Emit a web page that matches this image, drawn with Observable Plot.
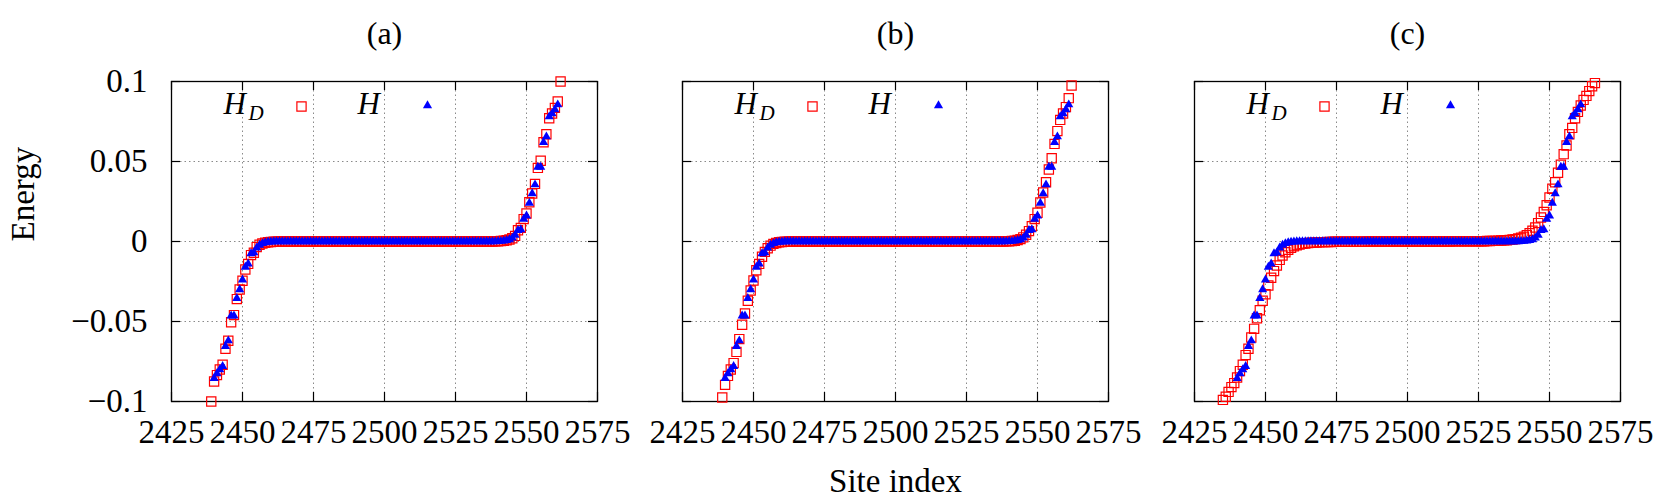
<!DOCTYPE html>
<html><head><meta charset="utf-8">
<script src="https://cdn.jsdelivr.net/npm/d3@7"></script>
<script src="https://cdn.jsdelivr.net/npm/@observablehq/plot@0.6"></script>
<style>
body{margin:0;background:#fff;}
#fig{position:relative;width:1660px;height:498px;font-family:"Liberation Serif",serif;}
#fig svg{position:absolute;top:0;background:transparent;overflow:visible;}
</style></head><body><div id="fig"></div>
<script>
const panelTitles = ["(a)", "(b)", "(c)"];
const xTicks = [2425, 2450, 2475, 2500, 2525, 2550, 2575];
const xTickLabels = ["2425", "2450", "2475", "2500", "2525", "2550", "2575"];
const yTicks = [-0.1, -0.05, 0, 0.05, 0.1];
const yTickLabels = ["\u22120.1", "\u22120.05", "0", "0.05", "0.1"];
const xGrid = [2450, 2475, 2500, 2525, 2550];
const yGrid = [-0.05, 0, 0.05];
const seriesNames = ["H", "D"];

// H (same in all panels): first site index 2440, last 2561 (122 values)
const H_start = 2440;
const H_energy = [
 -0.0855,-0.0825,-0.0800,-0.0780,-0.0655,-0.0620,-0.0465,-0.0465,-0.0355,-0.0300,-0.0240,-0.0160,-0.0140,-0.0075,-0.0070,-0.0040,-0.0022,-0.0012,-0.0007,-0.0004,-0.0002,-0.0001,
 0,0,0,0,0,0,0,0,0,0,
 0,0,0,0,0,0,0,0,0,0,
 0,0,0,0,0,0,0,0,0,0,
 0,0,0,0,0,0,0,0,0,0,
 0,0,0,0,0,0,0,0,0,0,
 0,0,0,0,0,0,0,0,0,0,
 0,0,0,0,0,0,0,0,0,0,
 0,0,0,0,0,0,0,0,
 0.0001,0.0002,0.0004,0.0007,0.0012,0.0022,0.0040,0.0070,0.0075,0.0140,0.0160,0.0240,0.0300,0.0355,0.0465,0.0465,0.0620,0.0655,0.0780,0.0800,0.0825,0.0855
];

// H_D panel (a): first site 2439, last 2562 (124 values)
const HD_a_start = 2439;
const HD_a_energy = [
 -0.1000,-0.0875,-0.0835,-0.0800,-0.0770,-0.0670,-0.0620,-0.0505,-0.0460,-0.0360,-0.0300,-0.0245,-0.0175,-0.0140,-0.0085,-0.0070,-0.0035,-0.0020,-0.0012,-0.0008,-0.0005,-0.0003,-0.0002,-0.0001,
 0,0,0,0,0,0,0,0,0,0,
 0,0,0,0,0,0,0,0,0,0,
 0,0,0,0,0,0,0,0,0,0,
 0,0,0,0,0,0,0,0,0,0,
 0,0,0,0,0,0,0,0,0,0,
 0,0,0,0,0,0,0,0,0,0,
 0,0,0,0,0,0,0,0,0,0,
 0,0,0,0,0,0,
 0.0001,0.0002,0.0003,0.0005,0.0008,0.0012,0.0020,0.0035,0.0070,0.0085,0.0140,0.0175,0.0245,0.0300,0.0360,0.0460,0.0505,0.0620,0.0670,0.0770,0.0800,0.0835,0.0875,0.1000
];

// H_D panel (b): first site 2439, last 2562 (124 values)
const HD_b_start = 2439;
const HD_b_energy = [
 -0.0975,-0.0896,-0.0840,-0.0800,-0.0760,-0.0690,-0.0610,-0.0520,-0.0450,-0.0370,-0.0306,-0.0244,-0.0180,-0.0140,-0.0095,-0.0065,-0.0042,-0.0026,-0.0015,-0.0009,-0.0005,-0.0003,-0.0002,-0.0001,
 0,0,0,0,0,0,0,0,0,0,
 0,0,0,0,0,0,0,0,0,0,
 0,0,0,0,0,0,0,0,0,0,
 0,0,0,0,0,0,0,0,0,0,
 0,0,0,0,0,0,0,0,0,0,
 0,0,0,0,0,0,0,0,0,0,
 0,0,0,0,0,0,0,0,0,0,
 0,0,0,0,0,0,
 0.0001,0.0002,0.0003,0.0005,0.0009,0.0015,0.0026,0.0042,0.0065,0.0095,0.0140,0.0180,0.0244,0.0306,0.0370,0.0450,0.0520,0.0610,0.0690,0.0760,0.0800,0.0840,0.0896,0.0975
];

// H_D panel (c): first site 2435, last 2566 (132 values)
const HD_c_start = 2435;
const HD_c_energy = [
 -0.0990,-0.0970,-0.0940,-0.0910,-0.0885,-0.0850,-0.0810,-0.0770,-0.0710,-0.0670,-0.0600,-0.0546,-0.0480,-0.0430,-0.0370,-0.0330,-0.0275,-0.0227,-0.0185,-0.0150,-0.0115,-0.0088,-0.0067,-0.0052,-0.0040,-0.0030,-0.0023,-0.0019,-0.0015,-0.0012,-0.0010,
 -0.0008,-0.0007,-0.0006,-0.0005,-0.0004,-0.0004,-0.0003,-0.0003,-0.0002,-0.0002,
 -0.0001,-0.0001,-0.0001,-0.0001,-0.0001,-0.0001,-0.0001,-0.0001,-0.0001,-0.0001,
 0,0,0,0,0,0,0,0,0,0,
 0,0,0,0,0,0,0,0,0,0,
 0,0,0,0,0,0,0,0,0,0,
 0.0001,0.0001,0.0001,0.0001,0.0001,0.0001,0.0001,0.0001,0.0001,0.0001,
 0.0002,0.0002,0.0003,0.0003,0.0004,0.0004,0.0005,0.0006,0.0007,0.0008,
 0.0010,0.0012,0.0015,0.0019,0.0023,0.0030,0.0040,0.0052,0.0067,0.0088,0.0115,0.0150,0.0185,0.0227,0.0275,0.0330,0.0370,0.0430,0.0480,0.0546,0.0600,0.0670,0.0710,0.0770,0.0810,0.0850,0.0885,0.0910,0.0940,0.0970,0.0990
];

const panels = [
  {title: panelTitles[0], start: HD_a_start, energy: HD_a_energy, left: 0, showY: true},
  {title: panelTitles[1], start: HD_b_start, energy: HD_b_energy, left: 511, showY: false, xlabel: "Site index"},
  {title: panelTitles[2], start: HD_c_start, energy: HD_c_energy, left: 1023, showY: false}
];

const FONT = "Liberation Serif";
const W = 426, Hh = 320, ML = 171, MR = 40, MT = 81, MB = 97;
const TICK = 9;
const FS = 33;
const fig = document.getElementById("fig");

for (const p of panels) {
  const hd = p.energy.map((e, i) => ({site: p.start + i, e}));
  const h = H_energy.map((e, i) => ({site: H_start + i, e}));
  const marks = [
    Plot.ruleX(xGrid, {x: d => d, stroke: "#8a8a8a", strokeWidth: 1, strokeDasharray: "1.5,3"}),
    Plot.ruleY(yGrid, {y: d => d, stroke: "#8a8a8a", strokeWidth: 1, strokeDasharray: "1.5,3"}),
    Plot.ruleX(xTicks, {x: d => d, stroke: "#000", strokeWidth: 1.2, insetTop: Hh - TICK}),
    Plot.ruleX(xTicks, {x: d => d, stroke: "#000", strokeWidth: 1.2, insetBottom: Hh - TICK}),
    Plot.ruleY(yTicks, {y: d => d, stroke: "#000", strokeWidth: 1.2, insetRight: W - TICK}),
    Plot.ruleY(yTicks, {y: d => d, stroke: "#000", strokeWidth: 1.2, insetLeft: W - TICK}),
    Plot.frame({stroke: "#000", strokeWidth: 1.3}),
    Plot.axisX(xTicks, {tickSize: 0, tickPadding: 18, label: null, fontSize: FS, fontFamily: FONT, fill: "#000",
      tickFormat: d => xTickLabels[xTicks.indexOf(d)]}),
    Plot.dot(hd, {x: "site", y: "e", symbol: "square", r: 5.2, stroke: "#ff0000", strokeWidth: 1.2, fill: "none"}),
    Plot.dot(h, {x: "site", y: "e", symbol: "triangle", r: 3.4, fill: "#0000ff", stroke: "none"}),
    // legend
    Plot.text([seriesNames[0]], {frameAnchor: "top-left", dx: 52, dy: 32, lineAnchor: "bottom", textAnchor: "start", fontSize: 31, fontStyle: "italic", fontFamily: FONT, fill: "#000"}),
    Plot.text([seriesNames[1]], {frameAnchor: "top-left", dx: 77, dy: 38, lineAnchor: "bottom", textAnchor: "start", fontSize: 21, fontStyle: "italic", fontFamily: FONT, fill: "#000"}),
    Plot.dot([0], {frameAnchor: "top-left", dx: 130, dy: 25, symbol: "square", r: 5.2, stroke: "#ff0000", strokeWidth: 1.2, fill: "none"}),
    Plot.text([seriesNames[0]], {frameAnchor: "top-left", dx: 186, dy: 32, lineAnchor: "bottom", textAnchor: "start", fontSize: 31, fontStyle: "italic", fontFamily: FONT, fill: "#000"}),
    Plot.dot([0], {frameAnchor: "top-left", dx: 256, dy: 24, symbol: "triangle", r: 3.4, fill: "#0000ff", stroke: "none"}),
    // title
    Plot.text([p.title], {frameAnchor: "top", dy: -48, lineAnchor: "middle", fontSize: 32, fontFamily: FONT, fill: "#000"})
  ];
  if (p.showY) {
    marks.push(Plot.axisY(yTicks, {tickSize: 0, tickPadding: 24, label: null, fontSize: FS, fontFamily: FONT, fill: "#000",
      tickFormat: d => yTickLabels[yTicks.indexOf(d)]}));
    marks.push(Plot.text(["Energy"], {frameAnchor: "left", dx: -138, rotate: -90, lineAnchor: "bottom", fontSize: FS, fontFamily: FONT, fill: "#000"}));
  }
  if (p.xlabel) {
    marks.push(Plot.text([p.xlabel], {frameAnchor: "bottom", dy: 90, lineAnchor: "bottom", fontSize: FS, fontFamily: FONT, fill: "#000"}));
  }
  const svg = Plot.plot({
    width: ML + W + MR, height: MT + Hh + MB,
    marginLeft: ML, marginRight: MR, marginTop: MT, marginBottom: MB,
    x: {domain: [2425, 2575], axis: null},
    y: {domain: [-0.1, 0.1], axis: null},
    style: {fontFamily: FONT, fontSize: FS + "px", background: "transparent", color: "#000"},
    marks
  });
  svg.style.left = p.left + "px";
  fig.appendChild(svg);
}
</script></body></html>
